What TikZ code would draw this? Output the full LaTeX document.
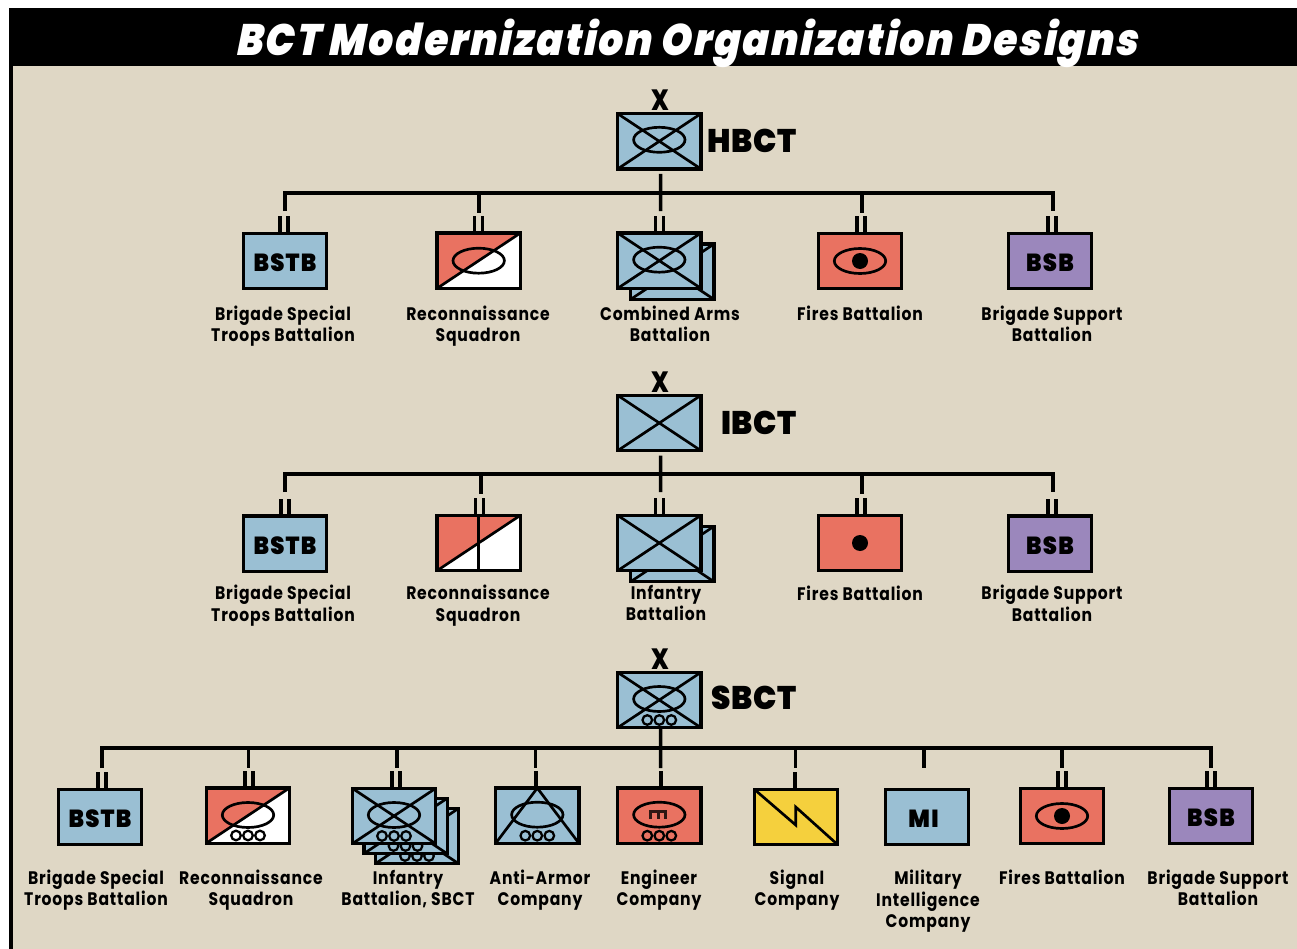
\documentclass[tikz,border=0pt]{standalone}
\usepackage{fontspec}
\setmainfont{Poppins}
\newfontfamily\labfont{Poppins Bold}[LetterSpace=4.5,FakeStretch=0.86]
\newfontfamily\heavyfont{Poppins Black}[LetterSpace=5,FakeStretch=0.92]
\newfontfamily\brandfont{Poppins Black}[LetterSpace=2,FakeStretch=0.95]
\newfontfamily\xfont{Poppins ExtraBold}[FakeStretch=0.82]
\newfontfamily\titlefont{Poppins Black}[FakeSlant=0.2,LetterSpace=5,FakeStretch=0.88]
\definecolor{tanbg}{HTML}{DFD7C5}
\definecolor{ublue}{HTML}{9ABFD3}
\definecolor{ured}{HTML}{E97261}
\definecolor{upurple}{HTML}{9B87BC}
\definecolor{uyellow}{HTML}{F5D03D}
\newcommand\boxtxt[1]{\raisebox{-7.9pt}[0pt][0pt]{#1}}
\tikzset{
 unit/.style={draw=black,line width=2.5pt,minimum width=62.5pt,minimum height=41.5pt,inner sep=0pt,outer sep=0pt,font=\heavyfont\fontsize{18.5}{18.5}\selectfont,line join=miter},
 bluebox/.style={unit,fill=ublue},
 redbox/.style={unit,fill=ured},
 whitebox/.style={unit,fill=white},
 purplebox/.style={unit,fill=upurple},
 yellowbox/.style={unit,fill=uyellow},
 conn/.style={draw=black,line width=2.6pt},
 tick/.style={draw=black,line width=2.4pt},
 sym/.style={draw=black,line width=2pt},
 lab/.style={font=\labfont\fontsize{13.6}{15.9}\selectfont,align=center,inner sep=0pt,execute at begin node=\strut,execute at end node=\strut},
 echelon/.style={font=\xfont\fontsize{22}{22}\selectfont,inner sep=0pt},
 brand/.style={font=\brandfont\fontsize{24.5}{24.5}\selectfont,anchor=east,inner sep=0pt},
}
% symbols
\newcommand\crossx[1]{\draw[sym] (#1.north west)--(#1.south east) (#1.north east)--(#1.south west);}
\newcommand\armoroval[2]{\draw[sym] ([shift={(0,#2)}]#1.center) ellipse [x radius=25.7,y radius=12.5];}
\newcommand\wheels[1]{\foreach \wx in {-12,0,12}{\draw[sym,line width=1.7pt] ([shift={(\wx,20)}]#1.center) circle [radius=4.8];}}
\newcommand\halfred[1]{\fill[ured] (#1.north west)--(#1.north east)--(#1.south west)--cycle;
 \draw[unit] (#1.north west) rectangle (#1.south east);
 \draw[sym] (#1.north east)--(#1.south west);}
% drop from bar to a child: the vertical, then the unit-size ticks
\newcommand\drop[3]{\draw[conn] (#1 |- #2)--([shift={(0,20)}]#1 |- #2);}
\newcommand\twoticks[2]{\draw[tick] ([shift={(#2-4,0)}]#1.north)--++(0,-17) ([shift={(#2+4,0)}]#1.north)--++(0,-17);}
\newcommand\onetick[2]{\draw[tick,line width=2.9pt] ([shift={(#2,0)}]#1.north)--++(0,-17);}
\begin{document}
\begin{tikzpicture}[x=0.75pt,y=-0.75pt]
\useasboundingbox (0,0) rectangle (1297,949);
\fill[white] (0,0) rectangle (1297,949);
\fill[black] (9,8) rectangle (1297,66);
\fill[black] (9,66) rectangle (13,949);
\fill[tanbg] (13,66) rectangle (1297,949);
\node[font=\titlefont\fontsize{33}{33}\selectfont,text=white,inner sep=0pt] (title) at (686,43) {BCT Modernization Organization Designs};

% ---------- HBCT
\node[bluebox] (hbct) at (659.3,141.3) {};
\crossx{hbct}\armoroval{hbct}{-1.5}
\node[echelon] (hx) at (660,100) {X};
\node[brand] (hname) at (797,141) {HBCT};
\coordinate (bar1) at (0,193);
\node[bluebox] (a1) at (285,261) {\boxtxt{BSTB}};
\node[whitebox] (a2) at (478.7,260.7) {};
\halfred{a2}\armoroval{a2}{0}
\node[bluebox] (a3b) at (672.3,271.7) {};
\crossx{a3b}
\node[bluebox] (a3) at (659.3,260.7) {};
\crossx{a3}\armoroval{a3}{-1}
\node[redbox] (a4) at (860,261) {};
\armoroval{a4}{0}
\fill (a4.center) circle [radius=8];
\node[purplebox] (a5) at (1050,261) {\boxtxt{BSB}};
\coordinate (t1) at (285,0);\coordinate (t2) at (479,0);\coordinate (t3) at (660.7,0);\coordinate (t4) at (862,0);\coordinate (t5) at (1053,0);
\draw[conn,line join=miter] ([shift={(0,18)}]t1 |- bar1)--(t1 |- bar1)--(t5 |- bar1)--([shift={(0,18)}]t5 |- bar1);
\draw[conn] ([shift={(1.4,5)}]hbct.south)--([shift={(0,18)}]t3 |- bar1);
\drop{t2}{bar1}{}\drop{t4}{bar1}{}
\twoticks{a1}{-1}\twoticks{a2}{0}\twoticks{a3}{0}\twoticks{a4}{1}\twoticks{a5}{2}
\node[lab] (al1) at (283,327) {Brigade Special\\Troops Battalion};
\node[lab] (al2) at (478,327) {Reconnaissance\\Squadron};
\node[lab] (al3) at (670,327) {Combined Arms\\Battalion};
\node[lab] (al4) at (860,316.5) {Fires Battalion};
\node[lab] (al5) at (1052,327) {Brigade Support\\Battalion};

% ---------- IBCT
\node[bluebox] (ibct) at (659.3,423) {};
\crossx{ibct}
\node[echelon] (ix) at (660,382.5) {X};
\node[brand] (iname) at (797,423) {IBCT};
\coordinate (bar2) at (0,474);
\node[bluebox] (b1) at (285,543.5) {\boxtxt{BSTB}};
\node[whitebox] (b2) at (478.7,543) {};
\halfred{b2}
\draw[sym] (b2.north)--(b2.south);
\node[bluebox] (b3b) at (672.3,554) {};
\crossx{b3b}
\node[bluebox] (b3) at (659.3,543) {};
\crossx{b3}
\node[redbox] (b4) at (860,543) {};
\fill (b4.center) circle [radius=8];
\node[purplebox] (b5) at (1050,543.5) {\boxtxt{BSB}};
\coordinate (u1) at (285,0);\coordinate (u2) at (481,0);\coordinate (u3) at (660.7,0);\coordinate (u4) at (862,0);\coordinate (u5) at (1053,0);
\draw[conn,line join=miter] ([shift={(0,18)}]u1 |- bar2)--(u1 |- bar2)--(u5 |- bar2)--([shift={(0,18)}]u5 |- bar2);
\draw[conn] ([shift={(1.4,5)}]ibct.south)--([shift={(0,18)}]u3 |- bar2);
\drop{u2}{bar2}{}\drop{u4}{bar2}{}
\twoticks{b1}{0}\twoticks{b2}{1}\twoticks{b3}{0}\twoticks{b4}{1}\twoticks{b5}{2}
\node[lab] (bl1) at (283,606.4) {Brigade Special\\Troops Battalion};
\node[lab] (bl2) at (478,606.4) {Reconnaissance\\Squadron};
\node[lab] (bl3) at (666,606.4) {Infantry\\Battalion};
\node[lab] (bl4) at (860,596) {Fires Battalion};
\node[lab] (bl5) at (1052,606.4) {Brigade Support\\Battalion};

% ---------- SBCT
\node[bluebox] (sbct) at (659.3,700) {};
\crossx{sbct}\armoroval{sbct}{-1}\wheels{sbct}
\node[echelon] (sx) at (660,659) {X};
\node[brand] (sname) at (797,698) {SBCT};
\coordinate (bar3) at (0,748);
\node[bluebox] (c1) at (100,817) {\boxtxt{BSTB}};
\node[whitebox] (c2) at (248,815.5) {};
\halfred{c2}\armoroval{c2}{-0.5}\wheels{c2}
\node[bluebox] (c3c) at (417,836) {};
\crossx{c3c}\armoroval{c3c}{-1}\wheels{c3c}
\node[bluebox] (c3b) at (405.5,826) {};
\crossx{c3b}\armoroval{c3b}{-1}\wheels{c3b}
\node[bluebox] (c3) at (394,816) {};
\crossx{c3}\armoroval{c3}{-1}\wheels{c3}
\node[bluebox] (c4) at (537.3,815.7) {};
\armoroval{c4}{-1}\wheels{c4}
\draw[sym] (c4.south west)--(c4.north)--(c4.south east);
\node[redbox] (c5) at (659.3,815.7) {};
\armoroval{c5}{-1}\wheels{c5}
\draw[line width=2.2pt,color=black!80!ured] ([shift={(-8.5,3.5)}]c5.center)--([shift={(-8.5,-4)}]c5.center)--([shift={(6.5,-4)}]c5.center)--([shift={(6.5,3.5)}]c5.center);
\draw[line width=2.2pt,color=black!80!ured] ([shift={(-1,-4)}]c5.center)--([shift={(-1,3.5)}]c5.center);
\node[yellowbox] (c6) at (796,817) {};
\draw[sym,line join=miter] (c6.north west)--([shift={(-0.3,8)}]c6.center)--([shift={(-0.3,-10)}]c6.center)--(c6.south east);
\node[bluebox] (c7) at (927,817) {\boxtxt{\hspace*{-5.2pt}MI}};
\node[redbox] (c8) at (1062,816) {};
\armoroval{c8}{0}
\fill (c8.center) circle [radius=8];
\node[purplebox] (c9) at (1211,816) {\boxtxt{BSB}};
\coordinate (v1) at (102,0);\coordinate (v2) at (248.3,0);\coordinate (v3) at (397,0);\coordinate (v4) at (535.7,0);\coordinate (v5) at (660.7,0);\coordinate (v6) at (795.7,0);\coordinate (v7) at (924,0);\coordinate (v8) at (1062,0);\coordinate (v9) at (1211,0);
\draw[conn,line join=miter] ([shift={(0,20)}]v1 |- bar3)--(v1 |- bar3)--(v9 |- bar3)--([shift={(0,20)}]v9 |- bar3);
\draw[conn] ([shift={(1.4,0)}]sbct.south)--([shift={(0,20)}]v5 |- bar3);
\drop{v2}{bar3}{}\drop{v3}{bar3}{}\drop{v4}{bar3}{}\drop{v6}{bar3}{}\drop{v7}{bar3}{}\drop{v8}{bar3}{}
\twoticks{c1}{2}\twoticks{c2}{1}\twoticks{c3}{2}\onetick{c4}{-1.5}\onetick{c5}{1.4}\onetick{c6}{-1}\twoticks{c8}{0}\twoticks{c9}{0}
\node[lab] (cl1) at (96,891) {Brigade Special\\Troops Battalion};
\node[lab] (cl2) at (251,891) {Reconnaissance\\Squadron};
\node[lab] (cl3) at (408,891) {Infantry\\Battalion, SBCT};
\node[lab] (cl4) at (540,891) {Anti-Armor\\Company};
\node[lab] (cl5) at (659,891) {Engineer\\Company};
\node[lab] (cl6) at (797,891) {Signal\\Company};
\node[lab] (cl7) at (928,902) {Military\\Intelligence\\Company};
\node[lab] (cl8) at (1062,880.7) {Fires Battalion};
\node[lab] (cl9) at (1218,891) {Brigade Support\\Battalion};
\end{tikzpicture}
\end{document}
